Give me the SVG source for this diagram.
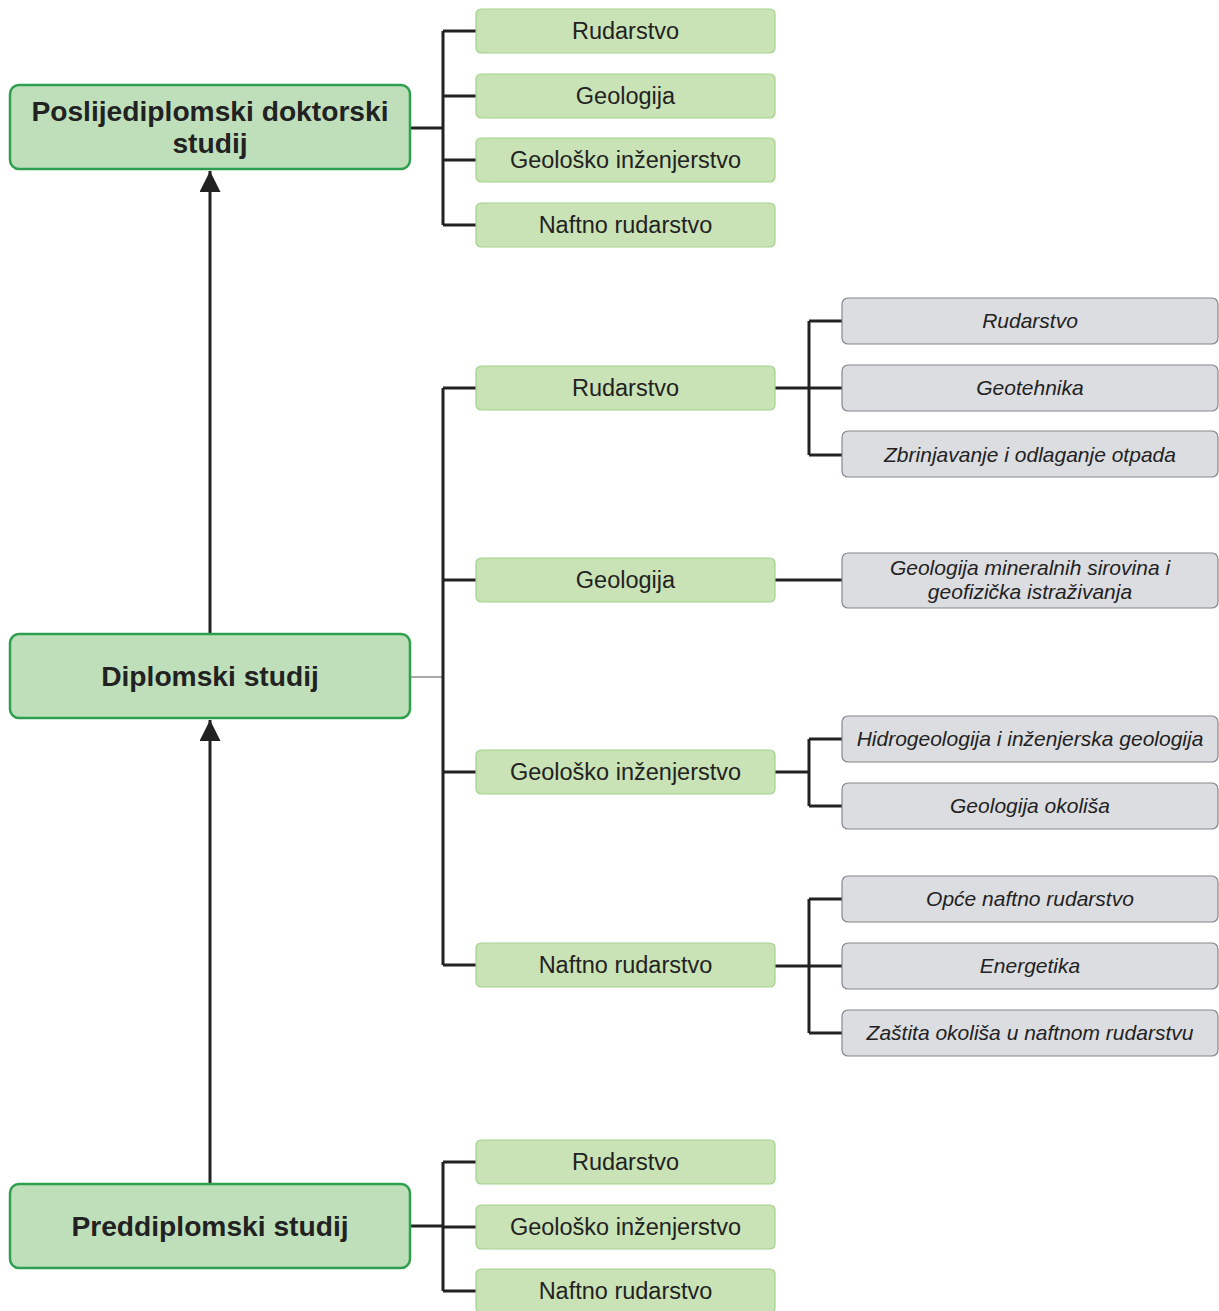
<svg xmlns="http://www.w3.org/2000/svg" width="1219" height="1311" viewBox="0 0 1219 1311">
<defs>
<style>
.main rect{fill:#bfdfba;stroke:#2e9e4f;stroke-width:2.5}
.main text{font-family:"Liberation Sans",Arial,sans-serif;font-weight:bold;font-size:28.2px;fill:#222;text-anchor:middle}
.g rect{fill:#c9e2b6;stroke:#a3d38c;stroke-width:1.2}
.g text{font-family:"Liberation Sans",Arial,sans-serif;font-size:23.5px;fill:#222;text-anchor:middle}
.s rect{fill:#dcdde1;stroke:#85878c;stroke-width:1.2}
.s text{font-family:"Liberation Sans",Arial,sans-serif;font-style:italic;font-size:21px;fill:#222;text-anchor:middle}
.c{fill:none;stroke:#222;stroke-width:3}
.thin{fill:none;stroke:#555;stroke-width:1.2}
</style>
<marker id="ah" viewBox="0 0 10 10" refX="10" refY="5" markerWidth="7" markerHeight="7" orient="auto" markerUnits="strokeWidth">
<path d="M0,0 L10,5 L0,10 z" fill="#222"/>
</marker>
</defs>
<rect width="1219" height="1311" fill="#fff"/>
<g id="connectors">
<path class="c" d="M410,128 H443 M443,31 V225 M443,31 H476 M443,96 H476 M443,160 H476 M443,225 H476"/>
<path class="thin" d="M410,677 H443"/>
<path class="c" d="M443,388 V965 M443,388 H476 M443,580 H476 M443,772 H476 M443,965 H476"/>
<path class="c" d="M775,388 H842 M809,321 V455 M809,321 H842 M809,455 H842"/>
<path class="c" d="M775,580 H842"/>
<path class="c" d="M775,772 H809 M809,739 V806 M809,739 H842 M809,806 H842"/>
<path class="c" d="M775,966 H842 M809,899 V1033 M809,899 H842 M809,1033 H842"/>
<path class="c" d="M410,1226 H443 M443,1162 V1291 M443,1162 H476 M443,1227 H476 M443,1291 H476"/>
<path class="c" d="M210,634 V171" marker-end="url(#ah)"/>
<path class="c" d="M210,1184 V720" marker-end="url(#ah)"/>
</g>
<g id="n-posli" class="main"><rect x="10" y="85" width="400" height="84" rx="9"/><text x="210" y="121">Poslijediplomski doktorski</text><text x="210" y="153">studij</text></g>
<g id="n-dipl" class="main"><rect x="10" y="634" width="400" height="84" rx="9"/><text x="210" y="686">Diplomski studij</text></g>
<g id="n-pred" class="main"><rect x="10" y="1184" width="400" height="84" rx="9"/><text x="210" y="1236">Preddiplomski studij</text></g>

<g id="p-rud" class="g"><rect x="476" y="9" width="299" height="44" rx="5"/><text x="625.5" y="39">Rudarstvo</text></g>
<g id="p-geo" class="g"><rect x="476" y="74" width="299" height="44" rx="5"/><text x="625.5" y="104">Geologija</text></g>
<g id="p-gi" class="g"><rect x="476" y="138" width="299" height="44" rx="5"/><text x="625.5" y="168">Geološko inženjerstvo</text></g>
<g id="p-nr" class="g"><rect x="476" y="203" width="299" height="44" rx="5"/><text x="625.5" y="233">Naftno rudarstvo</text></g>

<g id="d-rud" class="g"><rect x="476" y="366" width="299" height="44" rx="5"/><text x="625.5" y="396">Rudarstvo</text></g>
<g id="d-geo" class="g"><rect x="476" y="558" width="299" height="44" rx="5"/><text x="625.5" y="588">Geologija</text></g>
<g id="d-gi" class="g"><rect x="476" y="750" width="299" height="44" rx="5"/><text x="625.5" y="780">Geološko inženjerstvo</text></g>
<g id="d-nr" class="g"><rect x="476" y="943" width="299" height="44" rx="5"/><text x="625.5" y="973">Naftno rudarstvo</text></g>

<g id="s-rud" class="s"><rect x="842" y="298" width="376" height="46" rx="6"/><text x="1030" y="328">Rudarstvo</text></g>
<g id="s-geot" class="s"><rect x="842" y="365" width="376" height="46" rx="6"/><text x="1030" y="395">Geotehnika</text></g>
<g id="s-zbr" class="s"><rect x="842" y="431" width="376" height="46" rx="6"/><text x="1030" y="462">Zbrinjavanje i odlaganje otpada</text></g>
<g id="s-gms" class="s"><rect x="842" y="553" width="376" height="55" rx="6"/><text x="1030" y="575">Geologija mineralnih sirovina i</text><text x="1030" y="599">geofizička istraživanja</text></g>
<g id="s-hid" class="s"><rect x="842" y="716" width="376" height="46" rx="6"/><text x="1030" y="746">Hidrogeologija i inženjerska geologija</text></g>
<g id="s-gok" class="s"><rect x="842" y="783" width="376" height="46" rx="6"/><text x="1030" y="813">Geologija okoliša</text></g>
<g id="s-opc" class="s"><rect x="842" y="876" width="376" height="46" rx="6"/><text x="1030" y="906">Opće naftno rudarstvo</text></g>
<g id="s-ene" class="s"><rect x="842" y="943" width="376" height="46" rx="6"/><text x="1030" y="973">Energetika</text></g>
<g id="s-zas" class="s"><rect x="842" y="1010" width="376" height="46" rx="6"/><text x="1030" y="1040">Zaštita okoliša u naftnom rudarstvu</text></g>

<g id="u-rud" class="g"><rect x="476" y="1140" width="299" height="44" rx="5"/><text x="625.5" y="1170">Rudarstvo</text></g>
<g id="u-gi" class="g"><rect x="476" y="1205" width="299" height="44" rx="5"/><text x="625.5" y="1235">Geološko inženjerstvo</text></g>
<g id="u-nr" class="g"><rect x="476" y="1269" width="299" height="44" rx="5"/><text x="625.5" y="1299">Naftno rudarstvo</text></g>
</svg>
